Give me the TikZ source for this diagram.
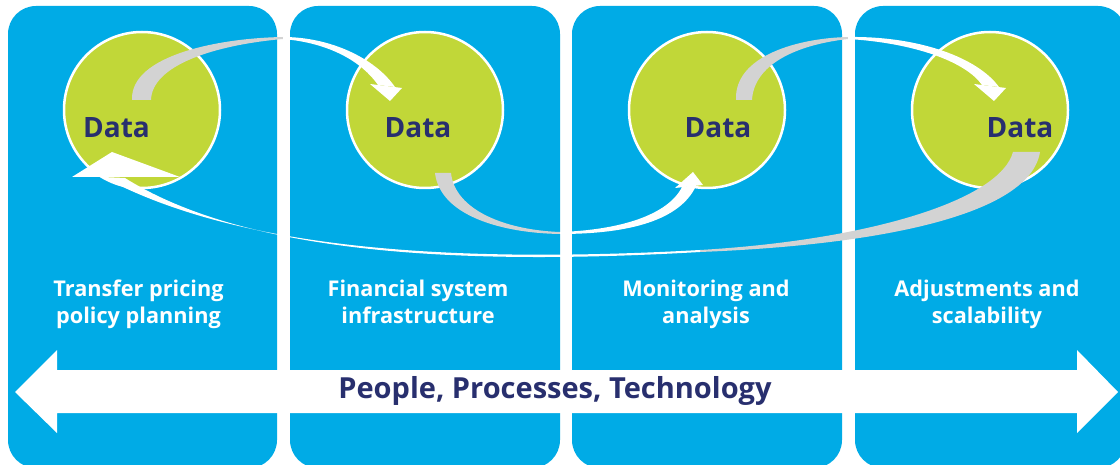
\documentclass[tikz,border=0pt]{standalone}
\usepackage{fontspec}
\setmainfont{Open Sans}
\definecolor{panelblue}{RGB}{0,171,230}
\definecolor{datagreen}{RGB}{193,215,56}
\definecolor{navy}{RGB}{40,47,110}
\definecolor{ribgrey}{RGB}{211,211,211}
\newcommand{\topstrut}{\rule{0pt}{16pt}}
\newcommand{\botstrut}{\rule[-6pt]{0pt}{6pt}}
\tikzset{
  panel/.style={fill=panelblue, rounded corners=28pt},
  datacircle/.style={circle, fill=datagreen, draw=white, line width=2.5pt, minimum size=156pt, inner sep=0pt},
  datatext/.style={text=navy, font=\fontsize{28}{30}\selectfont\bfseries, inner sep=0pt},
  steplabel/.style={text=white, font=\fontsize{21.7}{27}\selectfont\bfseries, align=center, inner sep=0pt},
  bigtext/.style={text=navy, font=\fontsize{29}{32}\selectfont\bfseries, inner sep=0pt},
  greyrib/.style={fill=ribgrey},
  whiterib/.style={fill=white}
}
\begin{document}
\begin{tikzpicture}[x=1pt,y=-1pt]
\useasboundingbox (0,0) rectangle (1120,465);
\clip (0,0) rectangle (1120,465);
\fill[white] (0,0) rectangle (1120,465);
% panels
\fill[panel] (8,6) rectangle (277,468);
\fill[panel] (290,6) rectangle (560,468);
\fill[panel] (572,6) rectangle (842,468);
\fill[panel] (855,6) rectangle (1126,468);
% circles
\node[datacircle] (c1) at (142,110) {};
\node[datacircle] (c2) at (425,110) {};
\node[datacircle] (c3) at (707,110) {};
\node[datacircle] (c4) at (990,110) {};
% arrow 1: c1 -> c2
\fill[greyrib] (132,100) .. controls (130,55) and (220,38) .. (283,37)
  -- (283,39) .. controls (215,45) and (152,65) .. (151,100) -- cycle;
\fill[whiterib] (283,37) .. controls (330,37) and (375,58) .. (395,87)
  -- (378,85) .. controls (362,62) and (330,43) .. (283,39) -- cycle;
\fill[white] (370,84) -- (402,88) -- (390,101) -- cycle;
% arrow 2: c2 -> c3
\fill[greyrib] (435,173) .. controls (440,215) and (500,233) .. (560,234)
  -- (560,232) .. controls (505,230) and (455,210) .. (451,173) -- cycle;
\fill[whiterib] (560,234) .. controls (630,234) and (680,220) .. (696,186)
  -- (682,187) .. controls (668,215) and (620,230) .. (560,232) -- cycle;
\fill[white] (675,188) -- (693,172) -- (703,185) -- cycle;
% arrow 3: c3 -> c4
\fill[greyrib] (736,100) .. controls (734,55) and (800,38) .. (848,37)
  -- (848,39) .. controls (795,45) and (754,65) .. (752,100) -- cycle;
\fill[whiterib] (848,37) .. controls (920,36) and (978,58) .. (999,87)
  -- (982,85) .. controls (966,62) and (915,43) .. (848,39) -- cycle;
\fill[white] (974,84) -- (1006,88) -- (994,101) -- cycle;
% arrow 4: c4 -> c1
\fill[greyrib] (1040,152) .. controls (1030,215) and (880,245) .. (700,252)
  -- (700,250) .. controls (870,240) and (1000,200) .. (1013,152) -- cycle;
\fill[whiterib] (700,250) .. controls (430,265) and (230,245) .. (103,177)
  -- (125,178) .. controls (240,250) and (440,267) .. (700,252) -- cycle;
\fill[white] (72,177) -- (112,152) -- (180,177) -- cycle;
% data texts
\node[datatext] (d1) at (116.5,128) {Data};
\node[datatext] (d2) at (418,128) {Data};
\node[datatext] (d3) at (718,128) {Data};
\node[datatext] (d4) at (1020,128) {Data};
% step labels
\node[steplabel] (l1) at (138.5,304.5) {\topstrut Transfer pricing\\policy planning\botstrut};
\node[steplabel] (l2) at (418,304.5) {\topstrut Financial system\\infrastructure\botstrut};
\node[steplabel] (l3) at (706,304.5) {\topstrut Monitoring and\\analysis\botstrut};
\node[steplabel] (l4) at (987,304.5) {\topstrut Adjustments and\\scalability\botstrut};
% double arrow
\fill[white] (15,392) -- (57,350) -- (57,370) -- (1077,370) -- (1077,350) -- (1118,392)
  -- (1077,433) -- (1077,413) -- (57,413) -- (57,433) -- cycle;
\node[bigtext] (ppt) at (555,391) {People, Processes, Technology};
\end{tikzpicture}
\end{document}
